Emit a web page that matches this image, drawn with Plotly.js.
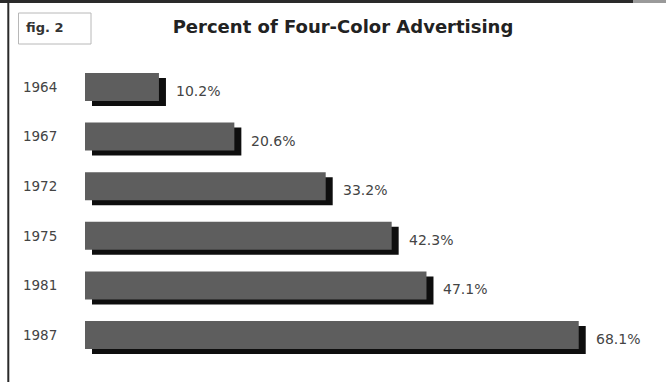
<!DOCTYPE html>
<html>
<head>
<meta charset="utf-8">
<script src="https://cdn.plot.ly/plotly-3.0.1.min.js"></script>
<style>html,body{margin:0;padding:0;background:#fff;}#chart{width:666px;height:382px;}</style>
</head>
<body>
<div id="chart"></div>
<script>
// Data
const years = ['1964', '1967', '1972', '1975', '1981', '1987'];
const percents = [10.2, 20.6, 33.2, 42.3, 47.1, 68.1];
const valueLabels = percents.map(v => v.toFixed(1) + '%');
const chartTitle = 'Percent of Four-Color Advertising';
const figLabel = 'fig. 2';

// Geometry (pixels)
const W = 666, H = 382;
const plotLeft = 85, pxPerUnit = 7.25, xMax = 74;
const plotRight = plotLeft + xMax * pxPerUnit;
const rowTop = 62.2, rowBottom = 359.8;
const dx = 7, dy = 5;
const px = v => v / W;
const py = v => 1 - v / H;

const font = 'DejaVu Sans, Verdana, sans-serif';

const shadow = {
  type: 'bar', orientation: 'h',
  x: percents, y: years,
  xaxis: 'x', yaxis: 'y',
  marker: {color: '#0e0e0e', line: {width: 0}},
  hoverinfo: 'skip'
};
const bars = {
  type: 'bar', orientation: 'h',
  x: percents, y: years,
  xaxis: 'x2', yaxis: 'y2',
  marker: {color: '#5e5e5e', line: {width: 0}},
  hoverinfo: 'skip'
};

// value labels: y given as category index (numeric-looking category names would be read as indices)
const annotations = percents.map((v, i) => ({
  x: v, y: i, xref: 'x2', yref: 'y2',
  text: valueLabels[i], showarrow: false,
  xanchor: 'left', yanchor: 'middle',
  xshift: 15, yshift: -4,
  font: {family: font, size: 14, color: '#444'}
}));
annotations.push({
  x: px(24), y: py(28), xref: 'paper', yref: 'paper',
  text: figLabel, showarrow: false, xanchor: 'left', yanchor: 'middle',
  font: {family: font, size: 13, color: '#333', weight: 'bold'}
});

const hiddenAxis = {showgrid: false, zeroline: false, showline: false, showticklabels: false, ticks: '', fixedrange: true};

const layout = {
  width: W, height: H,
  margin: {l: 0, r: 0, t: 0, b: 0, pad: 0},
  paper_bgcolor: '#ffffff', plot_bgcolor: 'rgba(0,0,0,0)',
  showlegend: false, bargap: 1 - 28 / 49.6,
  title: {
    text: chartTitle, x: px(343), y: py(27), xref: 'paper', yref: 'paper',
    xanchor: 'center', yanchor: 'middle',
    font: {family: font, size: 18, color: '#222', weight: 'bold'}
  },
  xaxis: Object.assign({}, hiddenAxis, {domain: [px(plotLeft + dx), px(plotRight + dx)], range: [0, xMax], anchor: 'y'}),
  yaxis: Object.assign({}, hiddenAxis, {
    domain: [py(rowBottom + dy), py(rowTop + dy)], anchor: 'x',
    type: 'category', categoryorder: 'array', categoryarray: years, range: [5.5, -0.5]
  }),
  xaxis2: Object.assign({}, hiddenAxis, {domain: [px(plotLeft), px(plotRight)], range: [0, xMax], anchor: 'y2'}),
  yaxis2: Object.assign({}, hiddenAxis, {
    domain: [py(rowBottom), py(rowTop)], anchor: 'x2',
    type: 'category', categoryorder: 'array', categoryarray: years, range: [5.5, -0.5],
    showticklabels: true, ticks: 'outside', ticklen: 24, tickcolor: 'rgba(0,0,0,0)',
    tickfont: {family: font, size: 13.5, color: '#444'}, automargin: false
  }),
  annotations: annotations,
  shapes: [
    {type: 'line', xref: 'paper', yref: 'paper', x0: 0, x1: px(633), y0: py(1.5), y1: py(1.5), line: {color: '#2a2a2a', width: 3}},
    {type: 'line', xref: 'paper', yref: 'paper', x0: px(633), x1: 1, y0: py(1.5), y1: py(1.5), line: {color: '#9a9a9a', width: 3}},
    {type: 'line', xref: 'paper', yref: 'paper', x0: px(8.3), x1: px(8.3), y0: 0, y1: 1, line: {color: '#2a2a2a', width: 2}},
    {type: 'rect', xref: 'paper', yref: 'paper', x0: px(18.5), x1: px(91), y0: py(13), y1: py(44), line: {color: '#b8b8b8', width: 1}, fillcolor: 'rgba(0,0,0,0)'}
  ]
};

Plotly.newPlot('chart', [shadow, bars], layout, {staticPlot: true, displayModeBar: false});
</script>
</body>
</html>
